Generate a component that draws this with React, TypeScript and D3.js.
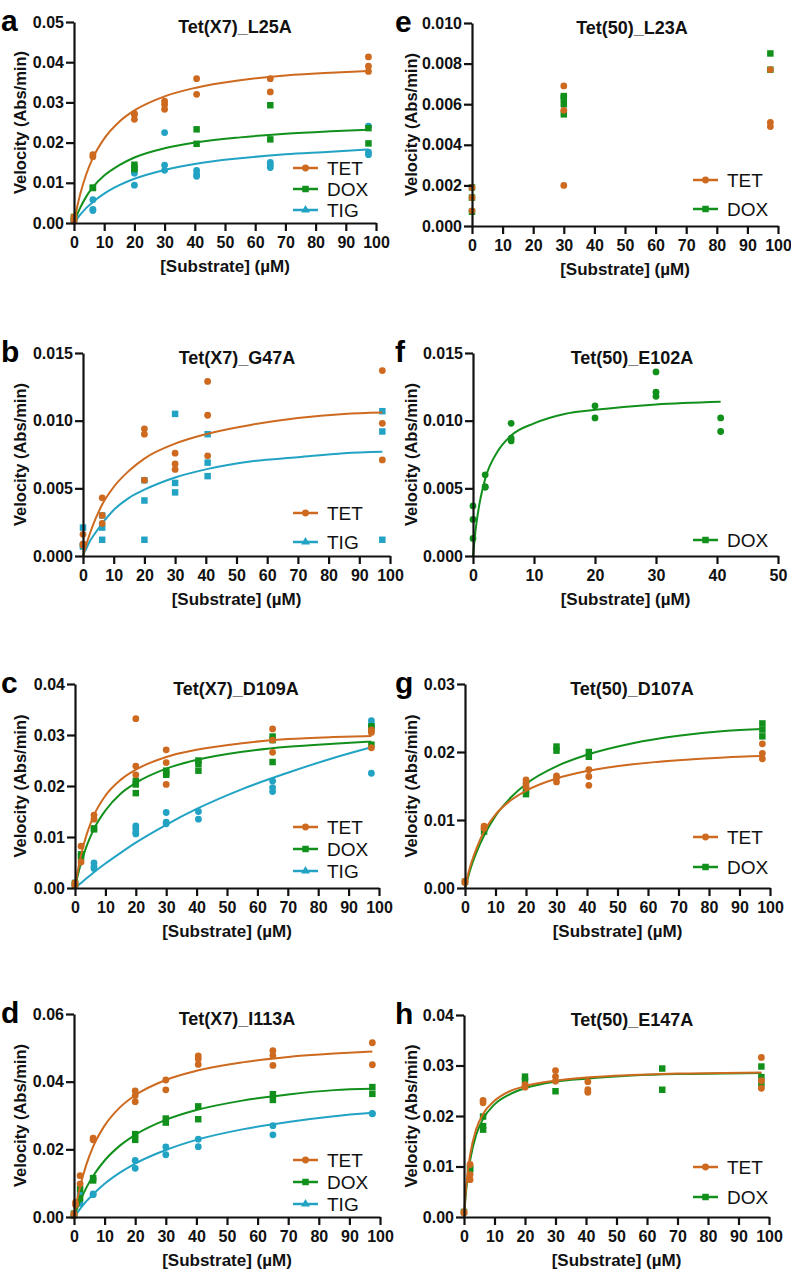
import { useEffect, useRef } from 'react'

import * as d3 from 'd3'

type Obs = [number, number[]]
type Shape = 'circle' | 'square' | 'triangle'

const TET_C = '#cd6a1f'
const DOX_C = '#12901c'
const TIG_C = '#22a3c4'
const FONT = "Arial, 'Liberation Sans', Helvetica, sans-serif"

const fitX = [0, 0.5, 1, 2, 4, 6.25, 10, 15, 20, 30, 40, 55, 70, 85, 97.5]
const fitXf = [0, 0.5, 1, 2, 4, 6.25, 10, 15, 20, 30, 40.6]

// a: Tet(X7)_L25A
const aTET: Obs[] = [
  [0, [0.0005, 0.001, 0.0015]],
  [6.25, [0.0165, 0.017]],
  [20, [0.0272, 0.0258, 0.027]],
  [30, [0.0303, 0.0295, 0.0283]],
  [40.6, [0.0359, 0.032]],
  [65, [0.0359, 0.0326]],
  [97.5, [0.0413, 0.039, 0.0377]],
]
const aDOX: Obs[] = [
  [0, [0.0015, 0.001]],
  [6.25, [0.0087, 0.0088]],
  [20, [0.0145, 0.0138, 0.0134]],
  [40.6, [0.0233, 0.0197]],
  [65, [0.0293, 0.0208]],
  [97.5, [0.0236, 0.0198]],
]
const aTIG: Obs[] = [
  [0, [0.0005, 0.001]],
  [6.25, [0.0058, 0.0031, 0.0034]],
  [20, [0.0132, 0.0124, 0.0094]],
  [30, [0.0225, 0.0144, 0.0131]],
  [40.6, [0.0131, 0.0122, 0.0116]],
  [65, [0.0151, 0.0145, 0.0138]],
  [97.5, [0.0241, 0.0176, 0.017]],
]
const aTETFit = [0, 0.002, 0.0038, 0.007, 0.012, 0.0162, 0.021, 0.0252, 0.028, 0.0315, 0.0336, 0.0355, 0.0367, 0.0374, 0.0378]
const aDOXFit = [0, 0.001, 0.002, 0.0037, 0.0065, 0.0089, 0.0118, 0.0144, 0.0163, 0.0186, 0.02, 0.0213, 0.0222, 0.0228, 0.0232]
const aTIGFit = [0, 0.0005, 0.001, 0.002, 0.0037, 0.0052, 0.0073, 0.0094, 0.011, 0.0132, 0.0147, 0.0161, 0.0171, 0.0177, 0.0183]

// b: Tet(X7)_G47A
const bTET: Obs[] = [
  [0, [0.0016, 0.0009, 0.0008]],
  [6.25, [0.0043, 0.003, 0.0024]],
  [20, [0.0094, 0.009, 0.0056]],
  [30, [0.0076, 0.0068, 0.0064]],
  [40.6, [0.0129, 0.0104, 0.0074]],
  [97.5, [0.0137, 0.0098, 0.0071]],
]
const bTIG: Obs[] = [
  [0, [0.0021, 0.0008, 0.0007]],
  [6.25, [0.003, 0.0021, 0.0012]],
  [20, [0.0056, 0.0041, 0.0012]],
  [30, [0.0105, 0.0054, 0.0047]],
  [40.6, [0.009, 0.0069, 0.0059]],
  [97.5, [0.0107, 0.0092, 0.0012]],
]
const bTETFit = [0, 0.0004, 0.0008, 0.0015, 0.0027, 0.0038, 0.0051, 0.0063, 0.0072, 0.0083, 0.009, 0.0097, 0.0102, 0.0105, 0.0106]
const bTIGFit = [0, 0.0003, 0.0005, 0.001, 0.0017, 0.0024, 0.0034, 0.0043, 0.0049, 0.0058, 0.0064, 0.007, 0.0073, 0.0076, 0.0077]

// c: Tet(X7)_D109A
const cTET: Obs[] = [
  [0, [0.0005, 0.001, 0.0008]],
  [2, [0.0082, 0.0051]],
  [6.25, [0.0143, 0.0135]],
  [20, [0.0332, 0.0239, 0.0222]],
  [30, [0.0271, 0.0246, 0.0203]],
  [65, [0.0312, 0.029, 0.0266]],
  [97.5, [0.031, 0.0275, 0.0305]],
]
const cDOX: Obs[] = [
  [0, [0.001, 0.0007]],
  [2, [0.0066, 0.0061]],
  [6.25, [0.0117, 0.0115]],
  [20, [0.021, 0.0203, 0.0186]],
  [30, [0.023, 0.0225, 0.0222]],
  [40.6, [0.025, 0.0243, 0.023]],
  [65, [0.0297, 0.029, 0.0247]],
  [97.5, [0.0317, 0.0312, 0.0281]],
]
const cTIG: Obs[] = [
  [0, [0.0005]],
  [6.25, [0.0049, 0.0038, 0.0042]],
  [20, [0.0122, 0.0117, 0.0106, 0.011]],
  [30, [0.0148, 0.0129, 0.0126]],
  [40.6, [0.015, 0.0135]],
  [65, [0.021, 0.0197, 0.0189]],
  [97.5, [0.0328, 0.032, 0.0225]],
]
const cTETFit = [0, 0.0019, 0.0036, 0.0065, 0.0108, 0.0143, 0.0181, 0.0212, 0.0232, 0.0257, 0.0271, 0.0284, 0.0292, 0.0296, 0.0298]
const cDOXFit = [0, 0.0014, 0.0027, 0.0049, 0.0085, 0.0116, 0.0152, 0.0185, 0.0206, 0.0234, 0.0251, 0.0267, 0.0277, 0.0283, 0.0287]
const cTIGFit = [0, 0.0003, 0.0005, 0.001, 0.002, 0.0031, 0.0048, 0.0069, 0.0089, 0.0124, 0.0155, 0.0194, 0.0226, 0.0255, 0.0276]

// d: Tet(X7)_I113A
const dTET: Obs[] = [
  [0, [0.001, 0.0005]],
  [0.5, [0.0043, 0.0036]],
  [2, [0.0122, 0.0098]],
  [6.25, [0.0233, 0.0228]],
  [20, [0.0373, 0.0359, 0.0341]],
  [30, [0.0405, 0.0376]],
  [40.6, [0.0476, 0.0467, 0.0451]],
  [65, [0.0492, 0.0477, 0.0448]],
  [97.5, [0.0515, 0.045]],
]
const dDOX: Obs[] = [
  [0, [0.001, 0.0005]],
  [2, [0.0083, 0.0055]],
  [6.25, [0.0115, 0.0108]],
  [20, [0.0245, 0.0228]],
  [30, [0.0291, 0.0279]],
  [40.6, [0.0327, 0.0289]],
  [65, [0.0363, 0.0346]],
  [97.5, [0.0384, 0.0364]],
]
const dTIG: Obs[] = [
  [0, [0.0005]],
  [2, [0.0068, 0.004]],
  [6.25, [0.0066, 0.0068]],
  [20, [0.0167, 0.0144]],
  [30, [0.0207, 0.0184]],
  [40.6, [0.023, 0.0208]],
  [65, [0.027, 0.0243]],
  [97.5, [0.0305, 0.0306]],
]
const dTETFit = [0, 0.0026, 0.0049, 0.009, 0.0154, 0.0208, 0.027, 0.0324, 0.036, 0.0405, 0.0432, 0.0457, 0.0473, 0.0483, 0.0489]
const dDOXFit = [0, 0.0013, 0.0025, 0.0047, 0.0086, 0.0121, 0.0167, 0.0211, 0.0243, 0.0287, 0.0316, 0.0344, 0.0362, 0.0375, 0.0379]
const dTIGFit = [0, 0.0006, 0.0012, 0.0024, 0.0046, 0.0067, 0.0098, 0.0131, 0.0158, 0.0198, 0.0228, 0.0259, 0.0281, 0.0298, 0.0308]

// e: Tet(50)_L23A (no fit)
const eTET: Obs[] = [
  [0, [0.0019, 0.0014, 0.00075]],
  [30, [0.0069, 0.0057, 0.002]],
  [97.5, [0.0077, 0.0051, 0.0049]],
]
const eDOX: Obs[] = [
  [0, [0.0019, 0.0014, 0.0007]],
  [30, [0.0064, 0.0063, 0.006, 0.0055]],
  [97.5, [0.0085, 0.0077]],
]

// f: Tet(50)_E102A
const fDOX: Obs[] = [
  [0, [0.0037, 0.0027, 0.0013]],
  [2, [0.006, 0.0051, 0.0051]],
  [6.25, [0.0098, 0.0087, 0.0085]],
  [20, [0.0111, 0.0102]],
  [30, [0.0136, 0.0121, 0.0118]],
  [40.6, [0.0102, 0.0092]],
]
const fDOXFit = [0, 0.0022, 0.0037, 0.0057, 0.0077, 0.0089, 0.0098, 0.0105, 0.0108, 0.0112, 0.0114]

// g: Tet(50)_D107A
const gTET: Obs[] = [
  [0, [0.001, 0.0008]],
  [6.25, [0.0091, 0.0088]],
  [20, [0.0159, 0.0154, 0.0149]],
  [30, [0.0165, 0.0162, 0.0156]],
  [40.6, [0.0174, 0.0164, 0.0151]],
  [97.5, [0.0212, 0.0198, 0.019]],
]
const gDOX: Obs[] = [
  [0, [0.0009]],
  [6.25, [0.0083]],
  [20, [0.0144, 0.0138]],
  [30, [0.0208, 0.0202]],
  [40.6, [0.02, 0.0193]],
  [97.5, [0.0242, 0.0233, 0.0223]],
]
const gTETFit = [0, 0.001, 0.002, 0.0036, 0.0061, 0.0083, 0.0108, 0.0129, 0.0143, 0.0161, 0.0172, 0.0182, 0.0188, 0.0192, 0.0194]
const gDOXFit = [0, 0.0008, 0.0016, 0.0031, 0.0055, 0.0077, 0.0106, 0.0133, 0.0153, 0.0179, 0.0196, 0.0213, 0.0224, 0.0231, 0.0234]

// h: Tet(50)_E147A
const hTET: Obs[] = [
  [0, [0.0008, 0.001]],
  [2, [0.0104, 0.0084, 0.0074]],
  [6.25, [0.0231, 0.0226]],
  [20, [0.0262, 0.0257]],
  [30, [0.029, 0.0278, 0.0269]],
  [40.6, [0.0268, 0.0252, 0.0247]],
  [97.5, [0.0316, 0.027, 0.0255]],
]
const hDOX: Obs[] = [
  [0, [0.001]],
  [2, [0.0094, 0.0097]],
  [6.25, [0.0199, 0.018, 0.0173]],
  [20, [0.0278, 0.027]],
  [30, [0.0249]],
  [65, [0.0294, 0.0252]],
  [97.5, [0.0298, 0.0277, 0.0264]],
]
const hTETFit = [0, 0.0045, 0.0078, 0.0123, 0.0174, 0.0204, 0.023, 0.0249, 0.0259, 0.027, 0.0276, 0.0281, 0.0284, 0.0285, 0.0286]
const hDOXFit = [0, 0.0039, 0.0069, 0.0112, 0.0163, 0.0194, 0.0223, 0.0243, 0.0255, 0.0268, 0.0274, 0.028, 0.0283, 0.0284, 0.0285]

interface Series {
  name: string
  color: string
  shape: Shape
  obs: Obs[]
  fitX?: number[]
  fit?: number[]
}

interface PanelDef {
  id: string
  title: string
  left: number
  right: number
  top: number
  bottom: number
  xMax: number
  yMax: number
  yStep: number
  yFmt: string
  titleX: number
  labelX: number
  letterX: number
  legendX: number
  legendY: number
  legendDy: number
  series: Series[]
}

const legendShape: Record<string, Shape> = { TET: 'circle', DOX: 'square', TIG: 'triangle' }

const panels: PanelDef[] = [
  {
    id: 'a', title: 'Tet(X7)_L25A', left: 74, right: 376, top: 22, bottom: 223,
    xMax: 100, yMax: 0.05, yStep: 0.01, yFmt: '.2f', titleX: 235, labelX: 26, letterX: 1,
    legendX: 293, legendY: 168, legendDy: 21,
    series: [
      { name: 'TET', color: TET_C, shape: 'circle', obs: aTET, fitX, fit: aTETFit },
      { name: 'DOX', color: DOX_C, shape: 'square', obs: aDOX, fitX, fit: aDOXFit },
      { name: 'TIG', color: TIG_C, shape: 'circle', obs: aTIG, fitX, fit: aTIGFit },
    ],
  },
  {
    id: 'b', title: 'Tet(X7)_G47A', left: 83, right: 390, top: 353, bottom: 556,
    xMax: 100, yMax: 0.015, yStep: 0.005, yFmt: '.3f', titleX: 237, labelX: 26, letterX: 1,
    legendX: 293, legendY: 513, legendDy: 29,
    series: [
      { name: 'TET', color: TET_C, shape: 'circle', obs: bTET, fitX, fit: bTETFit },
      { name: 'TIG', color: TIG_C, shape: 'square', obs: bTIG, fitX, fit: bTIGFit },
    ],
  },
  {
    id: 'c', title: 'Tet(X7)_D109A', left: 75, right: 379, top: 684, bottom: 888,
    xMax: 100, yMax: 0.04, yStep: 0.01, yFmt: '.2f', titleX: 236, labelX: 26, letterX: 1,
    legendX: 293, legendY: 827, legendDy: 22,
    series: [
      { name: 'TET', color: TET_C, shape: 'circle', obs: cTET, fitX, fit: cTETFit },
      { name: 'DOX', color: DOX_C, shape: 'square', obs: cDOX, fitX, fit: cDOXFit },
      { name: 'TIG', color: TIG_C, shape: 'circle', obs: cTIG, fitX, fit: cTIGFit },
    ],
  },
  {
    id: 'd', title: 'Tet(X7)_I113A', left: 74, right: 380, top: 1014, bottom: 1217,
    xMax: 100, yMax: 0.06, yStep: 0.02, yFmt: '.2f', titleX: 237, labelX: 26, letterX: 1,
    legendX: 293, legendY: 1160, legendDy: 22,
    series: [
      { name: 'TET', color: TET_C, shape: 'circle', obs: dTET, fitX, fit: dTETFit },
      { name: 'DOX', color: DOX_C, shape: 'square', obs: dDOX, fitX, fit: dDOXFit },
      { name: 'TIG', color: TIG_C, shape: 'circle', obs: dTIG, fitX, fit: dTIGFit },
    ],
  },
  {
    id: 'e', title: 'Tet(50)_L23A', left: 472, right: 778, top: 23, bottom: 226,
    xMax: 100, yMax: 0.01, yStep: 0.002, yFmt: '.3f', titleX: 632, labelX: 417, letterX: 395,
    legendX: 693, legendY: 180, legendDy: 29,
    series: [
      { name: 'TET', color: TET_C, shape: 'circle', obs: eTET },
      { name: 'DOX', color: DOX_C, shape: 'square', obs: eDOX },
    ],
  },
  {
    id: 'f', title: 'Tet(50)_E102A', left: 473, right: 778, top: 353, bottom: 556,
    xMax: 50, yMax: 0.015, yStep: 0.005, yFmt: '.3f', titleX: 632, labelX: 417, letterX: 395,
    legendX: 693, legendY: 540, legendDy: 29,
    series: [{ name: 'DOX', color: DOX_C, shape: 'circle', obs: fDOX, fitX: fitXf, fit: fDOXFit }],
  },
  {
    id: 'g', title: 'Tet(50)_D107A', left: 465, right: 770, top: 684, bottom: 888,
    xMax: 100, yMax: 0.03, yStep: 0.01, yFmt: '.2f', titleX: 632, labelX: 417, letterX: 395,
    legendX: 693, legendY: 837, legendDy: 30,
    series: [
      { name: 'TET', color: TET_C, shape: 'circle', obs: gTET, fitX, fit: gTETFit },
      { name: 'DOX', color: DOX_C, shape: 'square', obs: gDOX, fitX, fit: gDOXFit },
    ],
  },
  {
    id: 'h', title: 'Tet(50)_E147A', left: 464, right: 769, top: 1015, bottom: 1217,
    xMax: 100, yMax: 0.04, yStep: 0.01, yFmt: '.2f', titleX: 632, labelX: 417, letterX: 395,
    legendX: 693, legendY: 1167, legendDy: 30,
    series: [
      { name: 'TET', color: TET_C, shape: 'circle', obs: hTET, fitX, fit: hTETFit },
      { name: 'DOX', color: DOX_C, shape: 'square', obs: hDOX, fitX, fit: hDOXFit },
    ],
  },
]

function Marker({ shape, x, y, color, size = 1 }: { shape: Shape; x: number; y: number; color: string; size?: number }) {
  if (shape === 'circle') return <circle cx={x} cy={y} r={3.4 * size} fill={color} />
  const type = shape === 'square' ? d3.symbolSquare : d3.symbolTriangle
  const area = shape === 'square' ? 42 * size * size : 34 * size * size
  return <path d={d3.symbol(type, area)() || ''} transform={`translate(${x},${y})`} fill={color} />
}

function Panel({ p }: { p: PanelDef }) {
  const gxRef = useRef<SVGGElement>(null)
  const gyRef = useRef<SVGGElement>(null)

  const x = d3.scaleLinear().domain([0, p.xMax]).range([p.left, p.right])
  const y = d3.scaleLinear().domain([0, p.yMax]).range([p.bottom, p.top])

  useEffect(() => {
    if (!gxRef.current || !gyRef.current) return
    const nY = Math.round(p.yMax / p.yStep)
    const yTicks = d3.range(0, nY + 1).map((i) => i * p.yStep)
    const xTicks = d3.range(0, p.xMax + 1, 10)

    const gx = d3.select(gxRef.current)
    gx.selectAll('*').remove()
    gx.call(d3.axisBottom(x).tickValues(xTicks).tickSize(8).tickPadding(6).tickSizeOuter(0).tickFormat(d3.format('d')))

    const gy = d3.select(gyRef.current)
    gy.selectAll('*').remove()
    gy.call(d3.axisLeft(y).tickValues(yTicks).tickSize(8).tickPadding(2).tickSizeOuter(0).tickFormat(d3.format(p.yFmt)))

    for (const g of [gx, gy]) {
      g.attr('font-family', FONT).attr('font-size', 16).attr('font-weight', 'bold')
      g.select('.domain').attr('stroke', '#111').attr('stroke-width', 2.2)
      g.selectAll('.tick line').attr('stroke', '#111').attr('stroke-width', 2.2)
      g.selectAll('.tick text').attr('fill', '#111')
    }
  }, [p])

  const line = d3
    .line<[number, number]>()
    .x((d) => x(d[0]))
    .y((d) => y(d[1]))
    .curve(d3.curveMonotoneX)

  const midY = (p.top + p.bottom) / 2
  const drawOrder = [...p.series].reverse()

  return (
    <g>
      <text x={p.letterX} y={p.top + 9} fontFamily={FONT} fontWeight="bold" fontSize={30} fill="#000">
        {p.id}
      </text>
      <text x={p.titleX} y={p.top + 11} textAnchor="middle" fontFamily={FONT} fontWeight="bold" fontSize={18} fill="#111">
        {p.title}
      </text>
      <text
        transform={`translate(${p.labelX},${midY}) rotate(-90)`}
        textAnchor="middle"
        fontFamily={FONT}
        fontWeight="bold"
        fontSize={16.5}
        fill="#111"
      >
        Velocity (Abs/min)
      </text>
      <text x={(p.left + p.right) / 2} y={p.bottom + 49} textAnchor="middle" fontFamily={FONT} fontWeight="bold" fontSize={17} fill="#111">
        [Substrate] (µM)
      </text>

      {drawOrder.map((s) => (
        <g key={s.name}>
          {s.obs.flatMap(([sx, vs]) =>
            vs.map((v, i) => <Marker key={`${sx}-${i}`} shape={s.shape} x={x(sx)} y={y(v)} color={s.color} />),
          )}
          {s.fit && s.fitX && (
            <path
              d={line(s.fitX.map((fx, i) => [fx, s.fit![i]] as [number, number])) || ''}
              fill="none"
              stroke={s.color}
              strokeWidth={2}
            />
          )}
        </g>
      ))}

      <g ref={gxRef} transform={`translate(0,${p.bottom})`} />
      <g ref={gyRef} transform={`translate(${p.left},0)`} />

      {p.series.map((s, i) => {
        const ly = p.legendY + i * p.legendDy
        return (
          <g key={s.name}>
            <line x1={p.legendX} x2={p.legendX + 25} y1={ly} y2={ly} stroke={s.color} strokeWidth={2.5} />
            <Marker shape={legendShape[s.name]} x={p.legendX + 12.5} y={ly} color={s.color} />
            <text x={p.legendX + 34} y={ly + 7} fontFamily={FONT} fontSize={19} fill="#111">
              {s.name}
            </text>
          </g>
        )
      })}
    </g>
  )
}

export default function App() {
  return (
    <svg width={791} height={1274} style={{ position: 'absolute', left: 0, top: 0, background: '#fff' }}>
      <rect width={791} height={1274} fill="#fff" />
      {panels.map((p) => (
        <Panel key={p.id} p={p} />
      ))}
    </svg>
  )
}
